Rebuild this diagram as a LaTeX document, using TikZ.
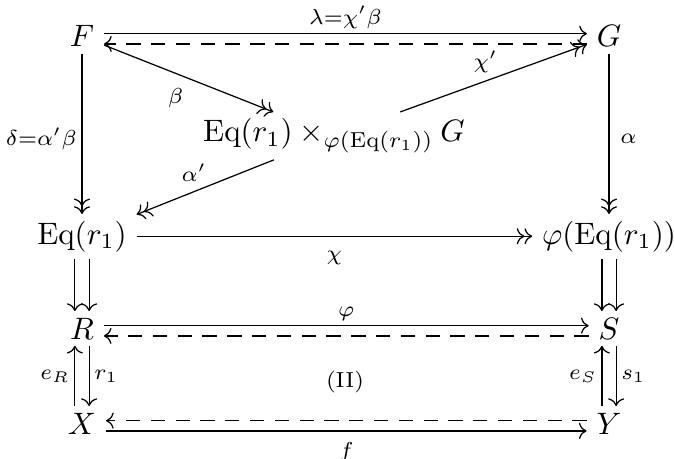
\documentclass[tikz,border=0pt]{standalone}
\usepackage{amsmath}
\usetikzlibrary{arrows.meta,positioning}

\begin{document}
\begin{tikzpicture}[
  x=0.3226pt, y=-0.3226pt,
  >={Computer Modern Rightarrow},
  obj/.style={anchor=base,inner xsep=3pt,inner ysep=2pt},
  lbl/.style={inner sep=1.5pt,execute at begin node=$\scriptstyle,
    execute at end node=$},
  arr/.style={->},
  epi/.style={->>},
  darr/.style={->,dash pattern=on 4.6pt off 3.4pt},
]
\useasboundingbox (0,0) rectangle (674,459);
\node[obj] (F) at (82,47)  {$F$};
\node[obj] (G) at (609,47) {$G$};
\node[obj] (M) at (334,142) {$\mathrm{Eq}(r_1)\times_{\varphi(\mathrm{Eq}(r_1))}G$};
\node[obj] (E) at (82,244)  {$\mathrm{Eq}(r_1)$};
\node[obj] (P) at (609,244) {$\varphi(\mathrm{Eq}(r_1))$};
\node[obj] (R) at (82,339)  {$R$};
\node[obj] (S) at (609,339) {$S$};
\node[obj] (X) at (82,434)  {$X$};
\node[obj] (Y) at (609,434) {$Y$};
\node[font=\scriptsize] (II) at (345,382) {(II)};
\draw[arr] ([yshift=4.3pt]F.base east) -- ([yshift=4.3pt]G.base west)
  node[lbl,midway,above] {\lambda=\chi'\beta};
\draw[darr] ([yshift=1pt]G.base west) -- ([yshift=1pt]F.base east);
\draw[epi] (F) -- (E) node[lbl,pos=0.53,left] {\delta=\alpha'\beta};
\draw[epi] (G) -- (P) node[lbl,pos=0.53,right=2pt] {\alpha};
\draw[epi] (F) -- (M) node[lbl,midway,below left=1.5pt and 0pt] {\beta};
\draw[epi] (M) -- (G) node[lbl,midway,above left=0pt and -3pt] {\chi'};
\draw[epi] (M) -- (E) node[lbl,midway,above left=0pt and -2pt] {\alpha'};
\draw[epi] (E) -- (P) node[lbl,midway,below=3pt] {\chi};
\draw[arr] ([xshift=-2.3pt]E.south) -- ([xshift=-2.3pt]R.north);
\draw[arr] ([xshift=2.3pt]E.south) -- ([xshift=2.3pt]R.north);
\draw[arr] ([xshift=-2.3pt]P.south) -- ([xshift=-2.3pt]S.north);
\draw[arr] ([xshift=2.3pt]P.south) -- ([xshift=2.3pt]S.north);
\draw[arr] ([yshift=4.3pt]R.base east) -- ([yshift=4.3pt]S.base west)
  node[lbl,midway,above] {\varphi};
\draw[darr] ([yshift=1pt]S.base west) -- ([yshift=1pt]R.base east);
\draw[arr] ([xshift=-2.3pt]X.north) -- ([xshift=-2.3pt]R.south)
  node[lbl,midway,left] {e_R};
\draw[arr] ([xshift=2.3pt]R.south) -- ([xshift=2.3pt]X.north)
  node[lbl,midway,right] {r_1};
\draw[arr] ([xshift=-2.3pt]Y.north) -- ([xshift=-2.3pt]S.south)
  node[lbl,midway,left] {e_S};
\draw[arr] ([xshift=2.3pt]S.south) -- ([xshift=2.3pt]Y.north)
  node[lbl,midway,right] {s_1};
\draw[darr] ([yshift=4.3pt]Y.base west) -- ([yshift=4.3pt]X.base east);
\draw[arr] ([yshift=1pt]X.base east) -- ([yshift=1pt]Y.base west)
  node[lbl,midway,below=2pt] {f};
\end{tikzpicture}
\end{document}
